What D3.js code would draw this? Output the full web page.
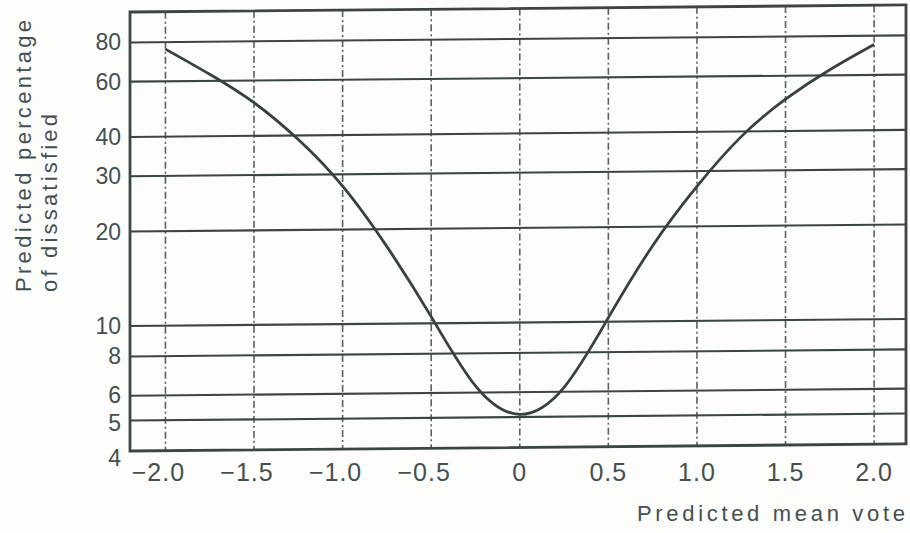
<!DOCTYPE html>
<html>
<head>
<meta charset="utf-8">
<script src="https://cdn.jsdelivr.net/npm/d3@7"></script>
<style>
  body { margin: 0; background: #fdfdfc; }
  text { font-family: "Liberation Sans", Arial, sans-serif; fill: #435050; }
</style>
</head>
<body>
<script>
// PMV / PPD chart values
var pmv = [-2.0, -1.75, -1.5, -1.25, -1.0, -0.75, -0.5, -0.25, 0, 0.25, 0.5, 0.75, 1.0, 1.25, 1.5, 1.75, 2.0];
var ppd = [76, 63, 51, 38.8, 27.5, 17.6, 10.5, 6.3, 5.1, 6.2, 10.3, 17.4, 26.8, 38.5, 50.5, 62.5, 75];

var xTicks = [-2.0, -1.5, -1.0, -0.5, 0, 0.5, 1.0, 1.5, 2.0];
var yTicks = [4, 5, 6, 8, 10, 20, 30, 40, 60, 80];
var yGrid = [5, 6, 8, 10, 20, 30, 40, 60, 80];

var W = 910, H = 533;
var ink = "#3a4644";

var svg = d3.select("body").append("svg")
  .attr("width", W)
  .attr("height", H);

var x = d3.scaleLinear().domain([-2.2, 2.18]).range([130, 906]);
var y = d3.scaleLog().domain([4, 100]).range([451, 12]);

// the scan is slightly tilted, right side higher
var plot = svg.append("g")
  .attr("transform", "translate(130,0) skewY(-0.52) translate(-130,0)");

// vertical dotted grid
plot.selectAll("line.vgrid")
  .data(xTicks)
  .enter()
  .append("line")
  .attr("class", "vgrid")
  .attr("x1", function(d) { return x(d); })
  .attr("x2", function(d) { return x(d); })
  .attr("y1", y(100))
  .attr("y2", y(4))
  .attr("stroke", "#556260")
  .attr("stroke-width", 1.6)
  .attr("stroke-dasharray", "7,3,2,3");

// horizontal grid
plot.selectAll("line.hgrid")
  .data(yGrid)
  .enter()
  .append("line")
  .attr("class", "hgrid")
  .attr("x1", x.range()[0])
  .attr("x2", x.range()[1])
  .attr("y1", function(d) { return y(d); })
  .attr("y2", function(d) { return y(d); })
  .attr("stroke", ink)
  .attr("stroke-width", 2.1);

// frame
plot.append("rect")
  .attr("x", x.range()[0])
  .attr("y", y(100))
  .attr("width", x.range()[1] - x.range()[0])
  .attr("height", y(4) - y(100))
  .attr("fill", "none")
  .attr("stroke", ink)
  .attr("stroke-width", 2.8);

// curve
var pts = pmv.map(function(v, i) { return [v, ppd[i]]; });
var line = d3.line()
  .x(function(d) { return x(d[0]); })
  .y(function(d) { return y(d[1]); })
  .curve(d3.curveNatural);

plot.append("path")
  .datum(pts)
  .attr("d", line)
  .attr("fill", "none")
  .attr("stroke", "#364240")
  .attr("stroke-width", 2.8);

// y tick labels
svg.selectAll("text.ytick")
  .data(yTicks)
  .enter()
  .append("text")
  .attr("class", "ytick")
  .attr("x", 121)
  .attr("y", function(d) {
    if (d == 4) return y(d) + 15;
    if (d == 5) return y(d) + 10;
    if (d == 6) return y(d) + 7;
    return y(d) + 8;
  })
  .attr("text-anchor", "end")
  .style("font-size", "23px")
  .text(function(d) { return d; });

// x tick labels
svg.selectAll("text.xtick")
  .data(xTicks)
  .enter()
  .append("text")
  .attr("class", "xtick")
  .attr("x", function(d) { return d < 0 ? x(d) - 7 : x(d); })
  .attr("y", 481)
  .attr("text-anchor", "middle")
  .style("font-size", "25px")
  .style("letter-spacing", "1px")
  .text(function(d) { return d === 0 ? "0" : d3.format(".1f")(d); });

// axis titles
svg.append("text")
  .attr("x", 905)
  .attr("y", 521)
  .attr("text-anchor", "end")
  .style("font-size", "22px")
  .attr("textLength", 268)
  .text("Predicted mean vote");

svg.append("text")
  .attr("transform", "translate(31,292) rotate(-90)")
  .style("font-size", "22px")
  .attr("textLength", 272)
  .text("Predicted percentage");

svg.append("text")
  .attr("transform", "translate(57,292) rotate(-90)")
  .style("font-size", "22px")
  .attr("textLength", 178)
  .text("of dissatisfied");
</script>
</body>
</html>
